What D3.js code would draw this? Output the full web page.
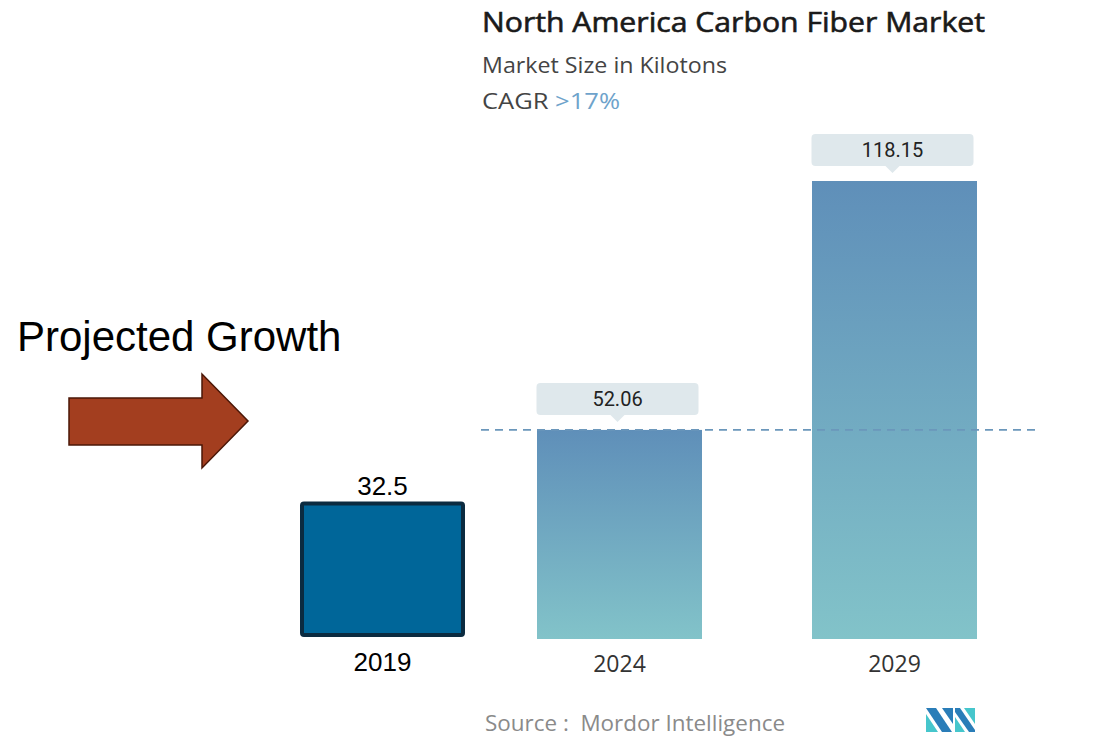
<!DOCTYPE html>
<html>
<head>
<meta charset="utf-8">
<script src="https://cdn.jsdelivr.net/npm/d3@7"></script>
<style>
  html, body { margin: 0; padding: 0; background: #fff; }
  svg { display: block; }
</style>
</head>
<body>
<svg id="chart" width="1102" height="737"></svg>
<script>
// Market data (kilotons)
const years = ["2024", "2029"];
const values = [52.06, 118.15];
const baseYear = ["2019"];
const baseValue = [32.5];
const cagrText = ">17%";

const W = 1102, H = 737;
const svg = d3.select("#chart");

const defs = svg.append("defs");
const grad = defs.append("linearGradient")
  .attr("id", "barGrad")
  .attr("x1", 0).attr("y1", 0).attr("x2", 0).attr("y2", 1);
grad.append("stop").attr("offset", "0%").attr("stop-color", "#5f8fb9");
grad.append("stop").attr("offset", "100%").attr("stop-color", "#82c3c9");

// Scales
const x = d3.scaleBand().domain(years).range([537, 977]).paddingInner(0.4);
const y = d3.scaleLinear().domain([0, 118.15]).range([626, 181]);
const floorY = 639;

const uiFont = "'Open Sans', Lato, sans-serif";

// Title block
const tx = 482;
svg.append("text").attr("x", tx).attr("y", 32)
  .attr("font-family", uiFont)
  .attr("font-size", 27).attr("font-weight", 500).attr("fill", "#1a1a1a")
  .attr("stroke", "#1a1a1a").attr("stroke-width", 0.6)
  .attr("textLength", 503).attr("lengthAdjust", "spacingAndGlyphs")
  .text("North America Carbon Fiber Market");
svg.append("text").attr("x", tx).attr("y", 73)
  .attr("font-family", uiFont)
  .attr("font-size", 21).attr("fill", "#444")
  .attr("textLength", 245).attr("lengthAdjust", "spacingAndGlyphs")
  .text("Market Size in Kilotons");
const cagr = svg.append("text").attr("x", tx).attr("y", 109)
  .attr("font-family", uiFont)
  .attr("font-size", 22).attr("fill", "#444")
  .attr("textLength", 138).attr("lengthAdjust", "spacingAndGlyphs");
cagr.append("tspan").text("CAGR ");
cagr.append("tspan").attr("fill", "#6ea3cb").text(cagrText);

// Bars
svg.selectAll("rect.bar").data(years).join("rect")
  .attr("class", "bar")
  .attr("x", d => x(d))
  .attr("width", x.bandwidth())
  .attr("y", (d, i) => y(values[i]))
  .attr("height", (d, i) => floorY - y(values[i]))
  .attr("fill", "url(#barGrad)");

// Reference line at the 2024 level
svg.append("line")
  .attr("x1", 481).attr("x2", 1036)
  .attr("y1", y(values[0])).attr("y2", y(values[0]))
  .attr("stroke", "#6b97bb").attr("stroke-width", 1.6)
  .attr("stroke-dasharray", "8,6");

// Value callouts
const callouts = svg.selectAll("g.callout").data(years).join("g")
  .attr("class", "callout")
  .attr("transform", (d, i) => `translate(${x(d) + x.bandwidth() / 2 - 2},${y(values[i]) - 9})`);
callouts.append("path")
  .attr("d", "M-81,-34 Q-81,-38 -77,-38 L77,-38 Q81,-38 81,-34 L81,-10 Q81,-6 77,-6 L7,-6 L0,1 L-7,-6 L-77,-6 Q-81,-6 -81,-10 Z")
  .attr("fill", "#dfe8ec");
callouts.append("text")
  .attr("x", 0).attr("y", -15)
  .attr("text-anchor", "middle")
  .attr("font-family", "Roboto, sans-serif")
  .attr("font-size", 20).attr("fill", "#222")
  .text((d, i) => values[i].toFixed(2));

// Year labels
svg.selectAll("text.year").data(years).join("text")
  .attr("class", "year")
  .attr("x", d => x(d) + x.bandwidth() / 2)
  .attr("y", 672)
  .attr("text-anchor", "middle")
  .attr("font-family", uiFont)
  .attr("font-size", 23).attr("fill", "#333")
  .text(d => d);

// 2019 baseline box
const bx = d3.scaleBand().domain(baseYear).range([302, 463]);
svg.selectAll("rect.base").data(baseYear).join("rect")
  .attr("class", "base")
  .attr("x", d => bx(d))
  .attr("width", bx.bandwidth())
  .attr("y", (d, i) => y(baseValue[i]))
  .attr("height", (d, i) => 635 - y(baseValue[i]))
  .attr("rx", 2)
  .attr("fill", "#006699").attr("stroke", "#0b2b40").attr("stroke-width", 4);
svg.selectAll("text.baseVal").data(baseYear).join("text")
  .attr("class", "baseVal")
  .attr("x", d => bx(d) + bx.bandwidth() / 2)
  .attr("y", (d, i) => y(baseValue[i]) - 9)
  .attr("text-anchor", "middle")
  .attr("font-family", "'Liberation Sans', Arial, sans-serif")
  .attr("font-size", 26).attr("fill", "#000")
  .text((d, i) => baseValue[i]);
svg.selectAll("text.baseYear").data(baseYear).join("text")
  .attr("class", "baseYear")
  .attr("x", d => bx(d) + bx.bandwidth() / 2)
  .attr("y", 671)
  .attr("text-anchor", "middle")
  .attr("font-family", "'Liberation Sans', Arial, sans-serif")
  .attr("font-size", 26).attr("fill", "#000")
  .text(d => d);

// Annotation
svg.append("text").attr("x", 17).attr("y", 351)
  .attr("font-family", "'Liberation Sans', Arial, sans-serif")
  .attr("font-size", 42).attr("fill", "#000")
  .text("Projected Growth");
svg.append("path")
  .attr("d", "M69,398 L202,398 L202,374 L248,421 L202,468 L202,445 L69,445 Z")
  .attr("fill", "#a33e1f").attr("stroke", "#4b1707").attr("stroke-width", 1.5);

// Source footer
svg.append("text").attr("x", 485).attr("y", 731)
  .attr("font-family", uiFont)
  .attr("font-size", 21).attr("fill", "#8a8a8a")
  .attr("xml:space", "preserve")
  .attr("textLength", 300).attr("lengthAdjust", "spacingAndGlyphs")
  .text("Source :  Mordor Intelligence");

// Logo mark
const logo = svg.append("g").attr("transform", "translate(926,708)");
logo.append("path").attr("d", "M0,0 L10,0 L26,24 L16,24 Z").attr("fill", "#2a7db8");
logo.append("path").attr("d", "M0,6 L12,24 L0,24 Z").attr("fill", "#46c6cc");
logo.append("path").attr("d", "M16,0 L27,0 L27,16 Z").attr("fill", "#2a7db8");
logo.append("path").attr("d", "M29,0 L34,0 L49,22 L49,24 L43,24 L29,4 Z").attr("fill", "#2a7db8");
logo.append("path").attr("d", "M29,9 L39,24 L29,24 Z").attr("fill", "#46c6cc");
logo.append("path").attr("d", "M38,0 L49,0 L49,16 Z").attr("fill", "#46c6cc");
</script>
</body>
</html>
